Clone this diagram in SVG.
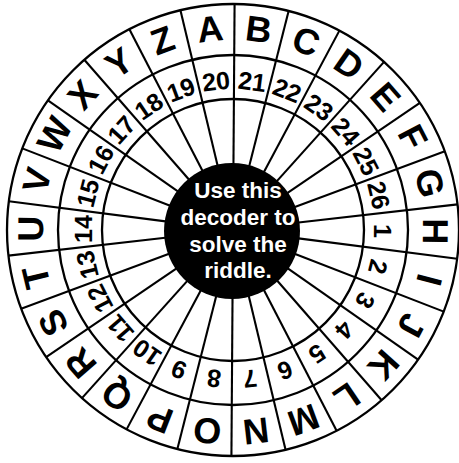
<svg xmlns="http://www.w3.org/2000/svg" width="459" height="463" viewBox="0 0 459 463">
<style>
.ring{fill:none;stroke:#000;stroke-width:2.3}
.sp{stroke:#000;stroke-width:2.1}
.let{font-family:"Liberation Sans",Arial,sans-serif;font-weight:bold;font-size:36px;text-anchor:middle;fill:#000}
.num{font-family:"Liberation Sans",Arial,sans-serif;font-weight:bold;font-size:25px;text-anchor:middle;fill:#000}
.ctr{font-family:"Liberation Sans",Arial,sans-serif;font-weight:bold;font-size:22.5px;text-anchor:middle;fill:#fff}
</style>
<rect width="459" height="463" fill="#fff"/>
<g id="wheel" transform="translate(233,230)">
  <circle class="ring" r="226"/>
  <circle class="ring" r="175"/>
  <circle class="ring" r="131"/>
</g>
<g id="connectors" transform="translate(233,230)">
  <line class="sp" x1="0" y1="-66" x2="0" y2="-226" transform="rotate(0.4)"/>
  <line class="sp" x1="0" y1="-66" x2="0" y2="-226" transform="rotate(14.25)"/>
  <line class="sp" x1="0" y1="-66" x2="0" y2="-226" transform="rotate(28.09)"/>
  <line class="sp" x1="0" y1="-66" x2="0" y2="-226" transform="rotate(41.94)"/>
  <line class="sp" x1="0" y1="-66" x2="0" y2="-226" transform="rotate(55.78)"/>
  <line class="sp" x1="0" y1="-66" x2="0" y2="-226" transform="rotate(69.63)"/>
  <line class="sp" x1="0" y1="-66" x2="0" y2="-226" transform="rotate(83.48)"/>
  <line class="sp" x1="0" y1="-66" x2="0" y2="-226" transform="rotate(97.32)"/>
  <line class="sp" x1="0" y1="-66" x2="0" y2="-226" transform="rotate(111.17)"/>
  <line class="sp" x1="0" y1="-66" x2="0" y2="-226" transform="rotate(125.02)"/>
  <line class="sp" x1="0" y1="-66" x2="0" y2="-226" transform="rotate(138.86)"/>
  <line class="sp" x1="0" y1="-66" x2="0" y2="-226" transform="rotate(152.71)"/>
  <line class="sp" x1="0" y1="-66" x2="0" y2="-226" transform="rotate(166.55)"/>
  <line class="sp" x1="0" y1="-66" x2="0" y2="-226" transform="rotate(180.4)"/>
  <line class="sp" x1="0" y1="-66" x2="0" y2="-226" transform="rotate(194.25)"/>
  <line class="sp" x1="0" y1="-66" x2="0" y2="-226" transform="rotate(208.09)"/>
  <line class="sp" x1="0" y1="-66" x2="0" y2="-226" transform="rotate(221.94)"/>
  <line class="sp" x1="0" y1="-66" x2="0" y2="-226" transform="rotate(235.78)"/>
  <line class="sp" x1="0" y1="-66" x2="0" y2="-226" transform="rotate(249.63)"/>
  <line class="sp" x1="0" y1="-66" x2="0" y2="-226" transform="rotate(263.48)"/>
  <line class="sp" x1="0" y1="-66" x2="0" y2="-226" transform="rotate(277.32)"/>
  <line class="sp" x1="0" y1="-66" x2="0" y2="-226" transform="rotate(291.17)"/>
  <line class="sp" x1="0" y1="-66" x2="0" y2="-226" transform="rotate(305.02)"/>
  <line class="sp" x1="0" y1="-66" x2="0" y2="-226" transform="rotate(318.86)"/>
  <line class="sp" x1="0" y1="-66" x2="0" y2="-226" transform="rotate(332.71)"/>
  <line class="sp" x1="0" y1="-66" x2="0" y2="-226" transform="rotate(346.55)"/>
</g>
<g id="letters" transform="translate(233,230)">
  <text class="let" y="-190" transform="rotate(-6.52)">A</text>
  <text class="let" y="-190" transform="rotate(7.32)">B</text>
  <text class="let" y="-190" transform="rotate(21.17)">C</text>
  <text class="let" y="-190" transform="rotate(35.01)">D</text>
  <text class="let" y="-190" transform="rotate(48.86)">E</text>
  <text class="let" y="-190" transform="rotate(62.71)">F</text>
  <text class="let" y="-190" transform="rotate(76.55)">G</text>
  <text class="let" y="-190" transform="rotate(90.40)">H</text>
  <text class="let" y="-190" transform="rotate(104.25)">I</text>
  <text class="let" y="-190" transform="rotate(118.09)">J</text>
  <text class="let" y="-190" transform="rotate(131.94)">K</text>
  <text class="let" y="-190" transform="rotate(145.78)">L</text>
  <text class="let" y="-190" transform="rotate(159.63)">M</text>
  <text class="let" y="-190" transform="rotate(173.48)">N</text>
  <text class="let" y="-190" transform="rotate(187.32)">O</text>
  <text class="let" y="-190" transform="rotate(201.17)">P</text>
  <text class="let" y="-190" transform="rotate(215.02)">Q</text>
  <text class="let" y="-190" transform="rotate(228.86)">R</text>
  <text class="let" y="-190" transform="rotate(242.71)">S</text>
  <text class="let" y="-190" transform="rotate(256.55)">T</text>
  <text class="let" y="-190" transform="rotate(270.40)">U</text>
  <text class="let" y="-190" transform="rotate(284.25)">V</text>
  <text class="let" y="-190" transform="rotate(298.09)">W</text>
  <text class="let" y="-190" transform="rotate(311.94)">X</text>
  <text class="let" y="-190" transform="rotate(325.78)">Y</text>
  <text class="let" y="-190" transform="rotate(339.63)">Z</text>
</g>
<g id="numbers" transform="translate(233,230)">
  <text class="num" y="-141" transform="rotate(-6.52)">20</text>
  <text class="num" y="-141" transform="rotate(7.32)">21</text>
  <text class="num" y="-141" transform="rotate(21.17)">22</text>
  <text class="num" y="-141" transform="rotate(35.01)">23</text>
  <text class="num" y="-141" transform="rotate(48.86)">24</text>
  <text class="num" y="-141" transform="rotate(62.71)">25</text>
  <text class="num" y="-141" transform="rotate(76.55)">26</text>
  <text class="num" y="-141" transform="rotate(90.40)">1</text>
  <text class="num" y="-141" transform="rotate(104.25)">2</text>
  <text class="num" y="-141" transform="rotate(118.09)">3</text>
  <text class="num" y="-141" transform="rotate(131.94)">4</text>
  <text class="num" y="-141" transform="rotate(145.78)">5</text>
  <text class="num" y="-141" transform="rotate(159.63)">6</text>
  <text class="num" y="-141" transform="rotate(173.48)">7</text>
  <text class="num" y="-141" transform="rotate(187.32)">8</text>
  <text class="num" y="-141" transform="rotate(201.17)">9</text>
  <text class="num" y="-141" transform="rotate(215.02)">10</text>
  <text class="num" y="-141" transform="rotate(228.86)">11</text>
  <text class="num" y="-141" transform="rotate(242.71)">12</text>
  <text class="num" y="-141" transform="rotate(256.55)">13</text>
  <text class="num" y="-141" transform="rotate(270.40)">14</text>
  <text class="num" y="-141" transform="rotate(284.25)">15</text>
  <text class="num" y="-141" transform="rotate(298.09)">16</text>
  <text class="num" y="-141" transform="rotate(311.94)">17</text>
  <text class="num" y="-141" transform="rotate(325.78)">18</text>
  <text class="num" y="-141" transform="rotate(339.63)">19</text>
</g>
<g id="center">
  <circle cx="232" cy="231" r="68" fill="#000"/>
  <text class="ctr" x="238" y="198">Use this</text>
  <text class="ctr" x="238" y="225">decoder to</text>
  <text class="ctr" x="238" y="252">solve the</text>
  <text class="ctr" x="238" y="278">riddle.</text>
</g>
</svg>
